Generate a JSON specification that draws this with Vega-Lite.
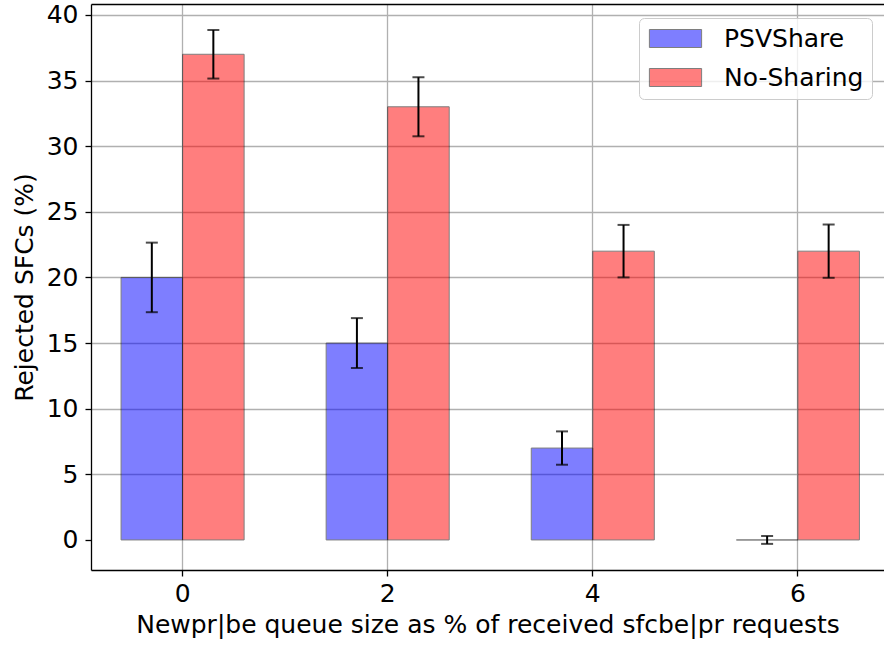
{
  "$schema": "https://vega.github.io/schema/vega-lite/v6.json",
  "width": 793,
  "height": 566,
  "autosize": {"type": "none"},
  "padding": {"left": 91, "top": 4, "right": 0, "bottom": 77},
  "background": "white",
  "config": {
    "view": {"stroke": null},
    "font": "DejaVu Sans",
    "axis": {
      "labelFont": "DejaVu Sans",
      "titleFont": "DejaVu Sans",
      "labelFontSize": 25,
      "titleFontSize": 25,
      "titleFontWeight": "normal",
      "labelColor": "black",
      "titleColor": "black",
      "domainColor": "black",
      "domainWidth": 1.3,
      "tickColor": "black",
      "tickWidth": 1.3,
      "tickSize": 6,
      "gridColor": "#b0b0b0",
      "gridWidth": 1.3
    }
  },
  "data": {
    "values": [
      {"q": "0", "series": "PSVShare", "value": 20, "lo": 17.35, "hi": 22.65},
      {"q": "2", "series": "PSVShare", "value": 15, "lo": 13.1, "hi": 16.9},
      {"q": "4", "series": "PSVShare", "value": 7, "lo": 5.73, "hi": 8.27},
      {"q": "6", "series": "PSVShare", "value": 0, "lo": -0.3, "hi": 0.3},
      {"q": "0", "series": "No-Sharing", "value": 37, "lo": 35.15, "hi": 38.85},
      {"q": "2", "series": "No-Sharing", "value": 33, "lo": 30.75, "hi": 35.25},
      {"q": "4", "series": "No-Sharing", "value": 22, "lo": 20.0, "hi": 24.0},
      {"q": "6", "series": "No-Sharing", "value": 22, "lo": 19.97, "hi": 24.03}
    ]
  },
  "layer": [
    {
      "mark": {"type": "bar", "stroke": "black", "strokeWidth": 1, "opacity": 0.5},
      "encoding": {
        "x": {
          "field": "q",
          "type": "ordinal",
          "sort": ["0", "2", "4", "6"],
          "scale": {"domain": ["0", "2", "4", "6"], "paddingInner": 0.4, "paddingOuter": 0.1332, "align": 0.55},
          "axis": {
            "orient": "bottom",
            "title": "Newpr|be queue size as % of received sfcbe|pr requests",
            "labelAngle": 0,
            "labelPadding": 5,
            "titlePadding": 6,
            "grid": true,
            "bandPosition": 0.5
          }
        },
        "xOffset": {
          "field": "series",
          "type": "nominal",
          "sort": ["PSVShare", "No-Sharing"],
          "scale": {"domain": ["PSVShare", "No-Sharing"], "paddingInner": 0, "paddingOuter": 0}
        },
        "y": {
          "field": "value",
          "type": "quantitative",
          "scale": {"domain": [-2.29, 40.83], "nice": false, "zero": false},
          "axis": {
            "title": "Rejected SFCs (%)",
            "values": [0, 5, 10, 15, 20, 25, 30, 35, 40],
            "labelPadding": 7,
            "titlePadding": 9,
            "grid": true,
            "gridOpacity": {"condition": {"test": "datum.value === 0", "value": 0}, "value": 1}
          }
        },
        "y2": {"datum": 0},
        "color": {
          "field": "series",
          "type": "nominal",
          "sort": ["PSVShare", "No-Sharing"],
          "scale": {"domain": ["PSVShare", "No-Sharing"], "range": ["#0000ff", "#ff0000"]},
          "legend": {
            "title": null,
            "orient": "none",
            "legendX": 548,
            "legendY": 14,
            "symbolType": "M-2.9,-1H2.9V1H-2.9Z",
            "symbolSize": 324,
            "symbolOffset": 16,
            "symbolOpacity": 0.5,
            "symbolStrokeColor": "black",
            "symbolStrokeWidth": 1,
            "labelFontSize": 25,
            "labelFont": "DejaVu Sans",
            "labelColor": "black",
            "labelOffset": 36,
            "rowPadding": 13,
            "padding": 8,
            "strokeColor": "#cccccc",
            "fillColor": "rgba(255,255,255,0.8)",
            "cornerRadius": 5
          }
        }
      }
    },
    {
      "mark": {"type": "rule", "color": "black", "strokeWidth": 2},
      "encoding": {
        "x": {"field": "q", "type": "ordinal", "sort": ["0", "2", "4", "6"], "axis": null},
        "xOffset": {"field": "series", "type": "nominal", "sort": ["PSVShare", "No-Sharing"]},
        "y": {"field": "lo", "type": "quantitative"},
        "y2": {"field": "hi"}
      }
    },
    {
      "mark": {"type": "tick", "orient": "horizontal", "color": "black", "size": 12, "thickness": 2},
      "encoding": {
        "x": {
          "field": "q",
          "type": "ordinal",
          "sort": ["0", "2", "4", "6"],
          "axis": {"orient": "top", "labels": false, "ticks": false, "grid": false, "domain": true, "title": null}
        },
        "xOffset": {"field": "series", "type": "nominal", "sort": ["PSVShare", "No-Sharing"]},
        "y": {"field": "lo", "type": "quantitative"}
      }
    },
    {
      "mark": {"type": "tick", "orient": "horizontal", "color": "black", "size": 12, "thickness": 2},
      "encoding": {
        "x": {"field": "q", "type": "ordinal", "sort": ["0", "2", "4", "6"], "axis": null},
        "xOffset": {"field": "series", "type": "nominal", "sort": ["PSVShare", "No-Sharing"]},
        "y": {"field": "hi", "type": "quantitative"}
      }
    }
  ]
}
